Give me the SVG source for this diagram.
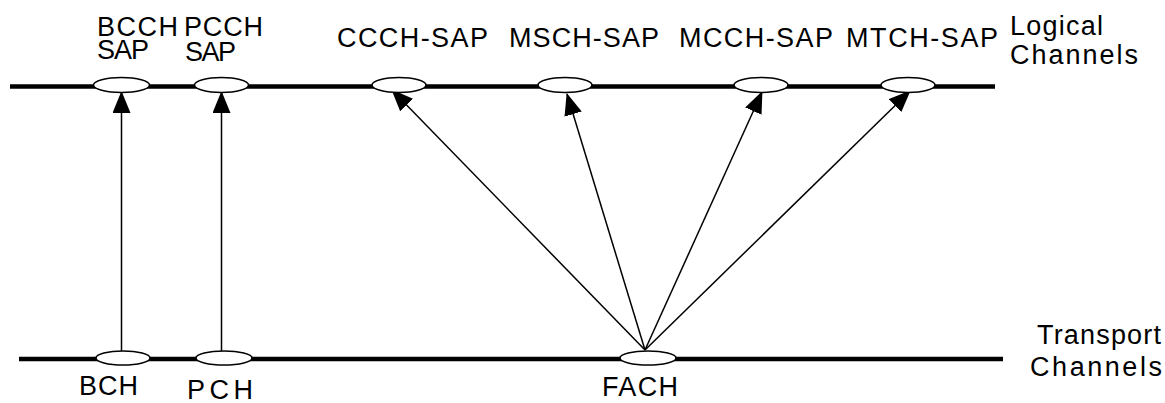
<svg xmlns="http://www.w3.org/2000/svg" width="1165" height="403" viewBox="0 0 1165 403">
  <style>
    .bus { stroke: #000; stroke-width: 4.5; fill: none; }
    .sap { fill: #fff; stroke: #000; stroke-width: 1.5; }
    .link { stroke: #000; stroke-width: 1.5; fill: none; marker-end: url(#head); }
    text { font-family: "Liberation Sans", Arial, sans-serif; font-size: 27px; fill: #000; }
  </style>
  <defs>
    <marker id="head" markerUnits="userSpaceOnUse" markerWidth="22" markerHeight="18" refX="21" refY="9" orient="auto" viewBox="0 0 22 18">
      <path d="M0,0 L22,9 L0,18 Z" fill="#000"/>
    </marker>
  </defs>

  <rect width="1165" height="403" fill="#fff"/>

  <!-- channel buses -->
  <line class="bus" x1="10" y1="86.5" x2="995" y2="86.5"/>
  <line class="bus" x1="19" y1="359" x2="1003" y2="359"/>

  <!-- mappings from transport to logical channels -->
  <g id="connectors">
    <line class="link" x1="121.5" y1="351" x2="121.5" y2="92"/>
    <line class="link" x1="221.5" y1="351" x2="221.5" y2="92"/>
    <line class="link" x1="645" y1="350" x2="392" y2="90"/>
    <line class="link" x1="645" y1="350" x2="567" y2="94"/>
    <line class="link" x1="645" y1="350" x2="762" y2="92"/>
    <line class="link" x1="645" y1="350" x2="910" y2="91"/>
  </g>

  <!-- logical channel SAPs -->
  <g id="bcch-sap">
    <ellipse class="sap" cx="121.5" cy="85" rx="28" ry="7.5"/>
    <text><tspan x="97" y="36" textLength="81" lengthAdjust="spacing">BCCH</tspan><tspan x="97" y="58.5" textLength="52" lengthAdjust="spacing">SAP</tspan></text>
  </g>
  <g id="pcch-sap">
    <ellipse class="sap" cx="221.5" cy="85" rx="27" ry="7.5"/>
    <text><tspan x="184" y="36" textLength="79" lengthAdjust="spacing">PCCH</tspan><tspan x="185" y="60.5" textLength="51" lengthAdjust="spacing">SAP</tspan></text>
  </g>
  <g id="ccch-sap">
    <ellipse class="sap" cx="399" cy="85" rx="27" ry="7.5"/>
    <text x="337" y="47" textLength="151" lengthAdjust="spacing">CCCH-SAP</text>
  </g>
  <g id="msch-sap">
    <ellipse class="sap" cx="565" cy="85" rx="27" ry="7.5"/>
    <text x="509" y="47" textLength="150" lengthAdjust="spacing">MSCH-SAP</text>
  </g>
  <g id="mcch-sap">
    <ellipse class="sap" cx="761" cy="85" rx="27" ry="7.5"/>
    <text x="679" y="47" textLength="154" lengthAdjust="spacing">MCCH-SAP</text>
  </g>
  <g id="mtch-sap">
    <ellipse class="sap" cx="908" cy="85" rx="27" ry="7.5"/>
    <text x="846" y="47" textLength="152" lengthAdjust="spacing">MTCH-SAP</text>
  </g>
  <g id="logical-label">
    <text><tspan x="1010" y="34.5" textLength="93" lengthAdjust="spacing">Logical</tspan><tspan x="1010" y="64" textLength="128" lengthAdjust="spacing">Channels</tspan></text>
  </g>

  <!-- transport channels -->
  <g id="bch">
    <ellipse class="sap" cx="123" cy="358" rx="27" ry="7"/>
    <text x="79" y="395" textLength="59" lengthAdjust="spacing">BCH</text>
  </g>
  <g id="pch">
    <ellipse class="sap" cx="224" cy="358" rx="28" ry="7"/>
    <text x="187" y="399" textLength="66" lengthAdjust="spacing">PCH</text>
  </g>
  <g id="fach">
    <ellipse class="sap" cx="648" cy="358" rx="28" ry="7"/>
    <text x="602" y="396" textLength="76" lengthAdjust="spacing">FACH</text>
  </g>
  <g id="transport-label">
    <text><tspan x="1037" y="344" textLength="124" lengthAdjust="spacing">Transport</tspan><tspan x="1030" y="376" textLength="132" lengthAdjust="spacing">Channels</tspan></text>
  </g>
</svg>
